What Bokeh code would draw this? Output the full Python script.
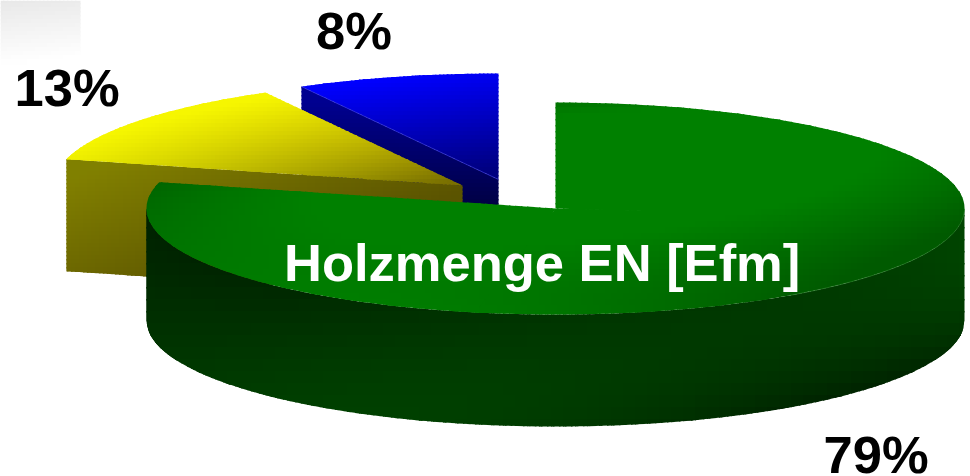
import numpy as np
from bokeh.plotting import figure
from bokeh.models import Range1d
from bokeh.core.properties import value
from bokeh.embed import file_html
from bokeh.resources import INLINE

slice_names = ["blue", "yellow", "green"]
shares = [8, 13, 79]
title_text = "Holzmenge EN [Efm]"

W, H = 970, 476
RX, RY, DEPTH = 409, 106, 112
centres = {"blue": (498, 179), "yellow": (462, 185), "green": (555, 208)}

label_pos = {"blue": (315.5, 30), "yellow": (14, 87), "green": (823, 454)}
title_pos = (283.5, 262)

shade = {
    "gray": [(0, 0, "#e6e6e6"), (80, 0, "#ececec"), (0, 30, "#f2f2f2"), (80, 30, "#f5f5f5"), (0, 62, "#ffffff"), (80, 62, "#ffffff")],
    "green_top": [(160, 190, "#006c00"), (150, 215, "#006600"), (250, 250, "#007e00"), (450, 240, "#008000"),
                  (555, 120, "#008000"), (700, 110, "#008000"), (870, 185, "#007e00"), (930, 190, "#007000"),
                  (960, 210, "#006000"), (900, 255, "#005a00"), (800, 295, "#005e00"), (600, 310, "#007000"),
                  (400, 300, "#007c00")],
    "green_side": [(150, 225, "#002200"), (150, 320, "#003000"), (300, 320, "#003000"), (400, 380, "#003a00"),
                   (555, 370, "#003e00"), (555, 425, "#003e00"), (800, 340, "#003800"), (960, 240, "#004400"),
                   (960, 320, "#003800"), (850, 340, "#003400"), (800, 400, "#002c00"), (680, 420, "#002a00")],
    "yellow_top": [(264, 98, "#f6f600"), (150, 130, "#f0f000"), (70, 160, "#f0f000"), (300, 140, "#d8d000"),
                   (240, 165, "#c4c000"), (380, 160, "#a09800"), (455, 183, "#7a7000")],
    "yellow_cut": [(70, 165, "#808000"), (70, 270, "#6e6a00"), (140, 200, "#7c7800"), (300, 180, "#706a00"),
                   (450, 190, "#5a5400"), (145, 275, "#625c00")],
    "blue_top": [(310, 88, "#0000ff"), (498, 75, "#0000f0"), (400, 100, "#0000f0"), (498, 130, "#0000a8"),
                 (498, 175, "#000080"), (400, 130, "#0000b8")],
    "blue_side": [(305, 95, "#000090"), (400, 150, "#000078"), (470, 180, "#00005c"), (495, 200, "#000040")],
}


def rgb(h):
    return [int(h[i:i + 2], 16) for i in (1, 3, 5)]


def terms(x, y, deg):
    u, v = x / 500.0, y / 250.0
    t = [1, u, v]
    if deg >= 2:
        t += [u * u, u * v, v * v]
    if deg >= 3:
        t += [u ** 3, u * u * v, u * v * v, v ** 3]
    return t


fits = {}
for name, pts in shade.items():
    deg = 3 if len(pts) >= 12 else 2 if len(pts) >= 7 else 1
    A = np.array([terms(a[0], a[1], deg) for a in pts])
    B = np.array([rgb(a[2]) for a in pts], float)
    fits[name] = (deg, np.linalg.lstsq(A, B, rcond=None)[0], B.min(axis=0), B.max(axis=0))


def colour(name, x, y):
    deg, K, lo, hi = fits[name]
    c = np.clip(np.array(terms(x, y, deg)) @ K, lo, hi)
    return "#%02x%02x%02x" % tuple(int(round(v)) for v in c)


xs, ys, cols = [], [], []


def clip(poly, axis, lim, keep_low):
    out = []
    n = len(poly)
    for i in range(n):
        a, b = poly[i], poly[(i + 1) % n]
        ina = a[axis] <= lim if keep_low else a[axis] >= lim
        inb = b[axis] <= lim if keep_low else b[axis] >= lim
        if ina:
            out.append(a)
        if ina != inb:
            t = (lim - a[axis]) / (b[axis] - a[axis])
            out.append((a[0] + t * (b[0] - a[0]), a[1] + t * (b[1] - a[1])))
    return out


OVER = 1.5


def fill_convex(poly, name, cell):
    """Split a convex polygon along a grid; each cell reaches back over the cells already painted."""
    P = np.array(poly)
    x0 = int(np.floor(P[:, 0].min() / cell)) * cell
    x1 = int(np.ceil(P[:, 0].max() / cell)) * cell
    y0 = int(np.floor(P[:, 1].min() / cell)) * cell
    y1 = int(np.ceil(P[:, 1].max() / cell)) * cell
    for gx in range(x0, x1, cell):
        col = clip(clip(list(map(tuple, poly)), 0, gx - OVER, False), 0, gx + cell, True)
        if len(col) < 3:
            continue
        for gy in range(y0, y1, cell):
            c = clip(clip(col, 1, gy - OVER, False), 1, gy + cell, True)
            if len(c) < 3:
                continue
            xs.append([q[0] for q in c])
            ys.append([q[1] for q in c])
            cols.append(colour(name, gx + cell / 2, gy + cell / 2))


def rim(c, phi, z=0.0):
    return (c[0] - RX * np.sin(phi), c[1] - RY * np.cos(phi) + z)


def sector(c, a0, a1, name, cell):
    n = int(np.ceil((a1 - a0) / (np.pi * 0.6)))
    bounds = np.linspace(a0, a1, n + 1)
    for i in range(n):
        start = bounds[i] - (0.03 if i else 0)
        ph = np.linspace(start, bounds[i + 1], 120)
        fill_convex([c] + [rim(c, q) for q in ph], name, cell)


def side(c, name, step, cell):
    left, right = c[0] - RX, c[0] + RX
    top = lambda x: c[1] + RY * np.sqrt(max(0.0, 1 - ((x - c[0]) / RX) ** 2))
    fine = [left]
    while fine[-1] < right:
        near = min(fine[-1] - left, right - fine[-1]) < 30
        fine.append(min(right, fine[-1] + (1.0 if near else step)))
    for a, b in zip(fine[:-1], fine[1:]):
        a0 = max(left, a - OVER)
        quad = [(a0, top(a0)), (b, top(b)), (b, top(b) + DEPTH), (a0, top(a0) + DEPTH)]
        fill_convex(quad, name, cell)


def cut(c, phi, name, cell):
    e = rim(c, phi)
    fill_convex([c, e, (e[0], e[1] + DEPTH), (c[0], c[1] + DEPTH)], name, cell)


tot = sum(shares)
edges = np.cumsum([0] + shares) / tot * 2 * np.pi

fill_convex([(0, 0), (80, 0), (80, 64), (0, 64)], "gray", 4)
cut(centres["blue"], edges[1], "blue_side", 4)
sector(centres["blue"], edges[0], edges[1], "blue_top", 4)
cut(centres["yellow"], edges[2], "yellow_cut", 4)
sector(centres["yellow"], edges[1], edges[2], "yellow_top", 4)
side(centres["green"], "green_side", 6, 12)
sector(centres["green"], edges[2], edges[3], "green_top", 6)

p = figure(width=W, height=H, output_backend="svg", toolbar_location=None,
           x_range=Range1d(0, W), y_range=Range1d(H, 0), min_border=0)
p.axis.visible = False
p.grid.visible = False
p.outline_line_color = None
p.background_fill_color = "white"
p.border_fill_color = "white"

p.patches(xs, ys, fill_color=cols, line_color=None)

e = rim(centres["blue"], edges[1])
p.line([e[0], centres["blue"][0]], [e[1], centres["blue"][1]], line_color="#3a3ad8", line_width=0.7)

# faint highlight where the top of the green slice meets its wall, right-hand side
arc = [rim(centres["green"], q) for q in np.linspace(np.radians(215), np.radians(270), 60)]
p.line([a[0] for a in arc], [a[1] for a in arc], line_color="#4fa04f", line_width=0.6, line_alpha=0.6)

font = value("Liberation Sans")
for n, v in zip(slice_names, shares):
    p.text([label_pos[n][0]], [label_pos[n][1]], text=[f"{v}%"], text_font=font, text_font_style="bold",
           text_font_size="52.5px", text_color="black", text_baseline="alphabetic", text_align="left")
p.text([title_pos[0]], [title_pos[1]], text=[title_text], text_font=font, text_font_style="bold",
       text_font_size="52.5px", text_color="white", text_baseline="alphabetic", text_align="left")

open("out.html", "w").write(file_html(p, INLINE))
